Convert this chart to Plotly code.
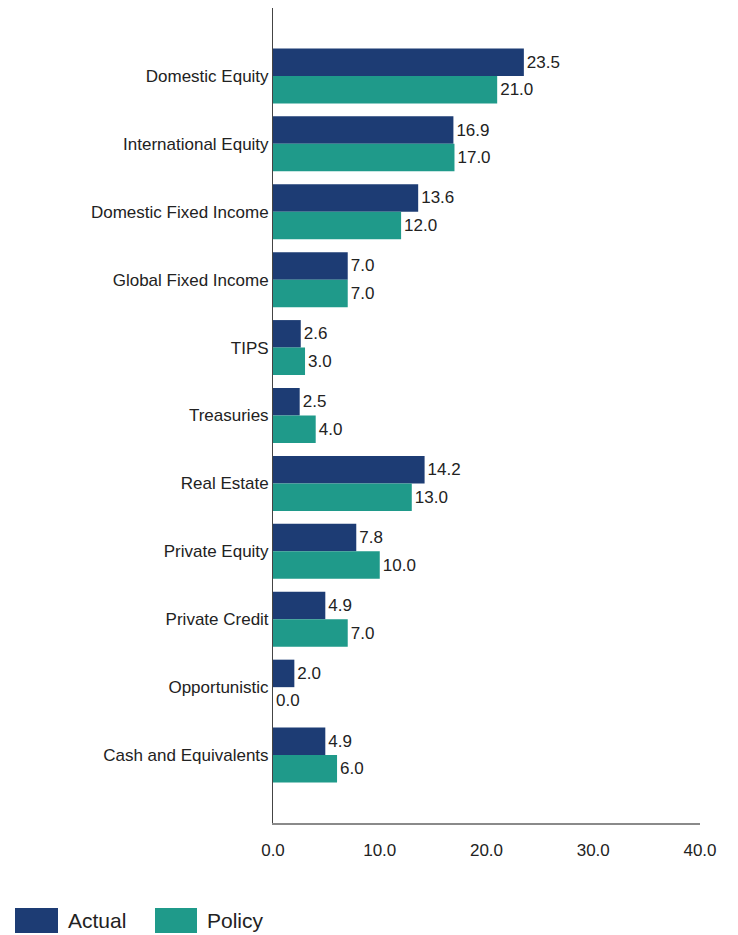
import plotly.graph_objects as go

categories = ["Domestic Equity", "International Equity", "Domestic Fixed Income",
              "Global Fixed Income", "TIPS", "Treasuries", "Real Estate",
              "Private Equity", "Private Credit", "Opportunistic", "Cash and Equivalents"]
actual = [23.5, 16.9, 13.6, 7.0, 2.6, 2.5, 14.2, 7.8, 4.9, 2.0, 4.9]
policy = [21.0, 17.0, 12.0, 7.0, 3.0, 4.0, 13.0, 10.0, 7.0, 0.0, 6.0]
series_names = ["Actual", "Policy"]
x_ticks = [0, 10, 20, 30, 40]

NAVY = "#1d3c74"
TEAL = "#1f9a8a"
FONT = "Liberation Sans, Arial, sans-serif"
TXT = "#222222"

W, H = 738, 935
L, R, T, B = 273, 38, 8, 112

fig = go.Figure()
for name, vals, col in [(series_names[0], actual, NAVY), (series_names[1], policy, TEAL)]:
    fig.add_trace(go.Bar(
        y=categories, x=vals, name=name, orientation="h",
        marker=dict(color=col, line=dict(width=0)),
        text=[f"{v:.1f}" for v in vals], textposition="outside",
        textfont=dict(family=FONT, size=17, color=TXT),
        cliponaxis=False, showlegend=False,
    ))

pw = W - L - R
ph = H - T - B
def px(xp):
    return (xp - L) / pw
def py(yp):
    return (H - B - yp) / ph

shapes = []
annotations = []
for name, col, x0, x1, tx in [(series_names[0], NAVY, 15, 58, 66), (series_names[1], TEAL, 155, 197, 205)]:
    shapes.append(dict(type="rect", xref="paper", yref="paper",
                       x0=px(x0), x1=px(x1), y0=py(933), y1=py(908),
                       fillcolor=col, line=dict(width=0)))
    annotations.append(dict(xref="paper", yref="paper", x=px(tx), y=py(920.5),
                            text=name, showarrow=False, xanchor="left", yanchor="middle",
                            font=dict(family=FONT, size=21, color=TXT)))

fig.update_layout(
    width=W, height=H,
    margin=dict(l=L, r=R, t=T, b=B, pad=0),
    paper_bgcolor="white", plot_bgcolor="white",
    barmode="group", bargap=0.19, bargroupgap=0,
    shapes=shapes, annotations=annotations,
    showlegend=False,
    font=dict(family=FONT, color=TXT),
)
fig.update_xaxes(range=[0, 40], tickvals=x_ticks, ticktext=[f"{v:.1f}" for v in x_ticks],
                 showgrid=False, zeroline=False, showline=True, linecolor="#8a8a8a",
                 linewidth=1.5, ticks="", tickfont=dict(family=FONT, size=17, color=TXT),
                 ticklabelstandoff=11)
fig.update_yaxes(range=[11.0, -1.0], showgrid=False, zeroline=False, showline=True,
                 linecolor="#444444", linewidth=1, ticks="",
                 tickfont=dict(family=FONT, size=17, color=TXT), ticklabelstandoff=0)

fig.write_html("out.html")
